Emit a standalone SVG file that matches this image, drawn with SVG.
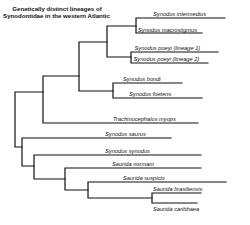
<svg xmlns="http://www.w3.org/2000/svg" width="250" height="225" viewBox="0 0 250 225">
<style>
.t{font-family:"Liberation Sans",Arial,sans-serif;font-size:5.7px;font-style:italic;fill:#111}
.h{font-family:"Liberation Sans",Arial,sans-serif;font-size:6.1px;font-weight:bold;fill:#111;text-anchor:middle}
.c{fill:none;stroke:#111;stroke-width:1.2;stroke-linecap:square}
</style>
<rect width="250" height="225" fill="#fff"/>
<g id="title">
<text class="h" x="57" y="11">Genetically distinct lineages of</text>
<text class="h" x="56.5" y="17.5">Synodontidae in the western Atlantic</text>
</g>
<g id="connectors" class="c">
<path d="M15,92V147M15,92H43M15,147H22"/>
<path d="M43,76V123M43,76H79M43,123H198"/>
<path d="M79,42V91M79,42H107M79,91H113"/>
<path d="M107,26V57M107,26H136M107,57H131"/>
<path d="M136,18V33M136,18H225M136,33H202"/>
<path d="M131,52V63M131,52H218M131,63H208"/>
<path d="M113,83V98M113,83H182M113,98H202"/>
<path d="M22,138V166M22,138H171M22,166H34"/>
<path d="M34,155V179M34,155H201M34,179H65"/>
<path d="M65,168V190M65,168H201M65,190H88"/>
<path d="M88,182V198M88,182H226M88,198H152"/>
<path d="M152,193V203M152,193H201M152,203H197"/>
</g>
<g id="synodus-intermedius"><text class="t" x="153" y="16">Synodus intermedius</text></g>
<g id="synodus-macrostigmus"><text class="t" x="138" y="31.5">Synodus macrostigmus</text></g>
<g id="synodus-poeyi-1"><text class="t" x="134.5" y="49.5">Synodus poeyi (lineage 1)</text></g>
<g id="synodus-poeyi-2"><text class="t" x="133.5" y="61">Synodus poeyi (lineage 2)</text></g>
<g id="synodus-bondi"><text class="t" x="123" y="80.5">Synodus bondi</text></g>
<g id="synodus-foetens"><text class="t" x="129" y="96">Synodus foetens</text></g>
<g id="trachinocephalus-myops"><text class="t" x="113" y="120.5">Trachinocephalus myops</text></g>
<g id="synodus-saurus"><text class="t" x="105" y="135.5">Synodus saurus</text></g>
<g id="synodus-synodus"><text class="t" x="105" y="152.5">Synodus synodus</text></g>
<g id="saurida-normani"><text class="t" x="112" y="165.5">Saurida normani</text></g>
<g id="saurida-suspicio"><text class="t" x="123" y="179.5">Saurida suspicio</text></g>
<g id="saurida-brasiliensis"><text class="t" x="153" y="191">Saurida brasiliensis</text></g>
<g id="saurida-caribbaea"><text class="t" x="153" y="211">Saurida caribbaea</text></g>
</svg>
